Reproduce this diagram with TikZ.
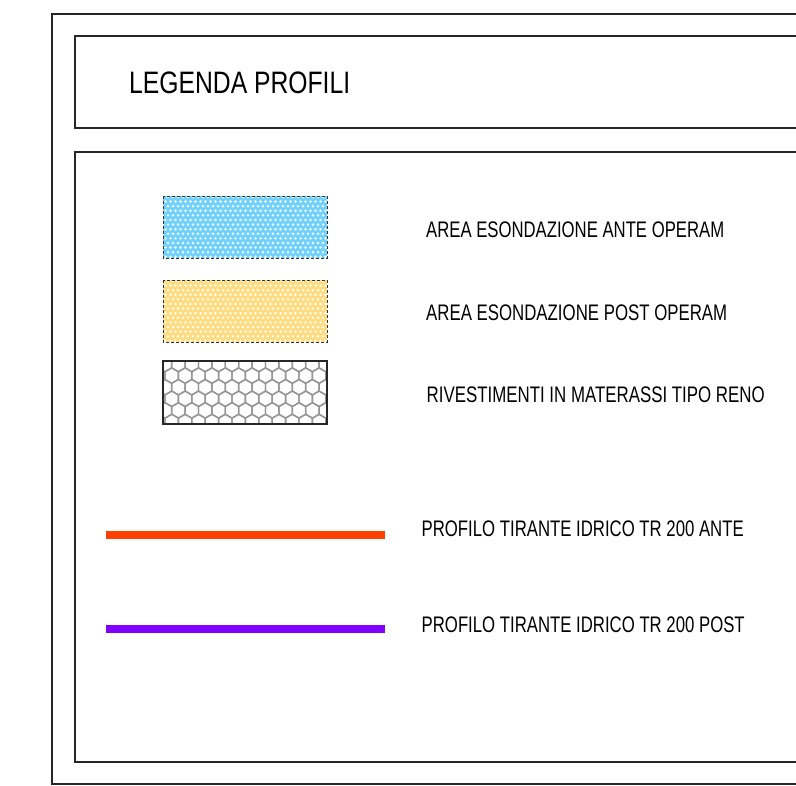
\documentclass[tikz,border=0pt]{standalone}
\usepackage{fontspec}
\setmainfont{Liberation Sans}
\usepackage{graphicx}
\definecolor{swblue}{RGB}{112,210,252}
\definecolor{swyellow}{RGB}{255,220,128}
\definecolor{redline}{RGB}{255,64,0}
\definecolor{purpleline}{RGB}{128,0,255}
\definecolor{hexgray}{RGB}{150,150,150}
\begin{document}
\begin{tikzpicture}[x=1pt,y=-1pt,
  frame/.style={draw=black!85,line width=1.6pt},
  swborder/.style={draw=black!80,densely dashed,line width=0.9pt},
  title/.style={anchor=base west,inner sep=0pt,font=\fontsize{31}{31}\selectfont},
  label/.style={anchor=base west,inner sep=0pt,font=\fontsize{22.5}{22.5}\selectfont},
  profline/.style={line width=8.5pt}]
\useasboundingbox (0,0) rectangle (796,786);
\clip (0,0) rectangle (796,786);
% frames
\draw[frame] (52,14) rectangle (840,784);
\draw[frame] (75,36) rectangle (840,128);
\draw[frame] (75,152) rectangle (840,762);
% title
\node[title] (title) at (129,93.5) {\resizebox{221pt}{\height}{LEGENDA PROFILI}};
% swatch 1 (blue dotted)
\fill[swblue] (163,196) rectangle (327,258);
\begin{scope}
  \clip (163,196) rectangle (327,258);
  \foreach \j in {0,...,13}{
    \foreach \i in {0,...,34}{
      \fill[white] ({163+\i*5+mod(\j,2)*2.5},{197+\j*4.6}) circle (1.35);
    }
  }
\end{scope}
\draw[swborder] (163,196) rectangle (327,258);
% swatch 2 (yellow dotted)
\fill[swyellow] (163,280) rectangle (327,342);
\begin{scope}
  \clip (163,280) rectangle (327,342);
  \foreach \j in {0,...,13}{
    \foreach \i in {0,...,34}{
      \fill[white] ({163+\i*5+mod(\j,2)*2.5},{281+\j*4.6}) circle (1.35);
    }
  }
\end{scope}
\draw[swborder] (163,280) rectangle (327,342);
% swatch 3 (hexagon mesh)
\begin{scope}
  \clip (163,361) rectangle (327,424);
  \foreach \j in {0,...,6}{
    \foreach \i in {-1,...,13}{
      \draw[hexgray,line width=1.4pt,shift={({165+\i*13.4+mod(\j,2)*6.7},{364+\j*11.6})}]
        (30:7.75) -- (90:7.75) -- (150:7.75) -- (210:7.75) -- (270:7.75) -- (330:7.75) -- cycle;
    }
  }
\end{scope}
\draw[black!85,line width=1.2pt] (163,361) rectangle (327,424);
% labels
\node[label] (l1) at (426,238) {\resizebox{298pt}{\height}{AREA ESONDAZIONE ANTE OPERAM}};
\node[label] (l2) at (426,320.5) {\resizebox{301pt}{\height}{AREA ESONDAZIONE POST OPERAM}};
\node[label] (l3) at (426.5,403) {\resizebox{338pt}{\height}{RIVESTIMENTI IN MATERASSI TIPO RENO}};
\node[label] (l4) at (421.5,536.5) {\resizebox{322pt}{\height}{PROFILO TIRANTE IDRICO TR 200 ANTE}};
\node[label] (l5) at (421.5,632) {\resizebox{323pt}{\height}{PROFILO TIRANTE IDRICO TR 200 POST}};
% profile lines
\coordinate (r1) at (105.5,535);
\coordinate (r2) at (384.5,535);
\coordinate (p1) at (105.5,629);
\coordinate (p2) at (384.5,629);
\draw[profline,redline] (r1) -- (r2);
\draw[profline,purpleline] (p1) -- (p2);
\end{tikzpicture}
\end{document}
